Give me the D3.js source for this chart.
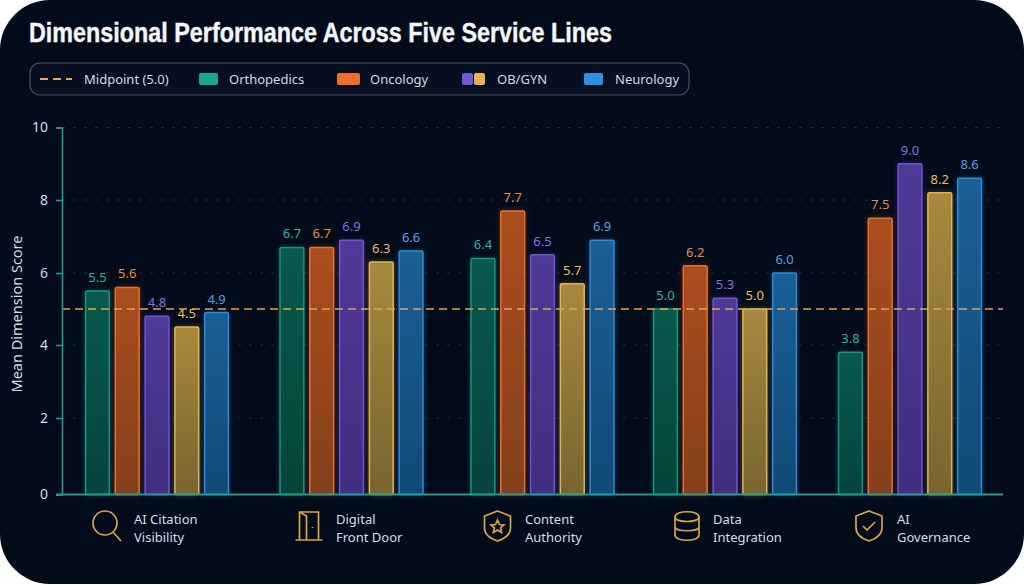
<!DOCTYPE html>
<html lang="en">
<head>
    <meta charset="UTF-8">
    <title>Dimensional Performance</title>
    <script src="https://d3js.org/d3.v7.min.js"></script>
    <style>
        html, body { margin: 0; padding: 0; background: #fff; }
        svg { display: block; }
        text { font-family: "Noto Sans", sans-serif; }
    </style>
</head>
<body>
<svg width="1024" height="585"></svg>
<script>
    var categories = [["AI Citation", "Visibility"], ["Digital", "Front Door"], ["Content", "Authority"], ["Data", "Integration"], ["AI", "Governance"]];
    var seriesNames = ["Orthopedics", "Oncology", "OB", "GYN", "Neurology"];
    var orthopedics = [5.5, 6.7, 6.4, 5.0, 3.8];
    var oncology = [5.6, 6.7, 7.7, 6.2, 7.5];
    var ob = [4.8, 6.9, 6.5, 5.3, 9.0];
    var gyn = [4.5, 6.3, 5.7, 5.0, 8.2];
    var neurology = [4.9, 6.6, 6.9, 6.0, 8.6];
    var yTicks = [0, 2, 4, 6, 8, 10];
    var midpoint = 5.0;

    var seriesValues = [orthopedics, oncology, ob, gyn, neurology];
    var stroke = ["#16977f", "#e8702c", "#6f53d0", "#e2b257", "#2f8ad8"];
    var fillTop = ["#09594d", "#ac4d1f", "#4f3a98", "#a8893c", "#1a5f98"];
    var fillBottom = ["#05443a", "#84401b", "#412e80", "#786530", "#114a76"];
    var labelColor = ["#2bb49c", "#f08a3e", "#8a6ee8", "#efbe5e", "#4aa3ec"];

    var svg = d3.select("svg");
    var defs = svg.append("defs");

    var glow = defs.append("filter").attr("id", "glow")
        .attr("x", "-40%").attr("y", "-20%").attr("width", "180%").attr("height", "140%");
    glow.append("feGaussianBlur").attr("stdDeviation", 2.5);

    seriesNames.forEach(function (s, i) {
        var g = defs.append("linearGradient").attr("id", "bar" + i)
            .attr("x1", 0).attr("y1", 0).attr("x2", 0).attr("y2", 1);
        g.append("stop").attr("offset", "0%").attr("stop-color", fillTop[i]);
        g.append("stop").attr("offset", "100%").attr("stop-color", fillBottom[i]);
    });

    // panel
    svg.append("rect").attr("width", 1024).attr("height", 584).attr("rx", 50)
        .attr("fill", "#020b1a");

    // title
    svg.append("text").attr("x", 29).attr("y", 42)
        .attr("font-size", 27).attr("font-weight", 700).attr("fill", "#f4f6f8")
        .attr("stroke", "#f4f6f8").attr("stroke-width", 0.4)
        .style("font-family", "'Liberation Sans Narrow', 'Liberation Sans', sans-serif")
        .attr("textLength", 583).attr("lengthAdjust", "spacingAndGlyphs")
        .text("Dimensional Performance Across Five Service Lines");

    // legend
    var legend = svg.append("g");
    legend.append("rect").attr("x", 30).attr("y", 63).attr("width", 659).attr("height", 32).attr("rx", 10)
        .attr("fill", "#050f1f").attr("stroke", "#4a5260").attr("stroke-width", 1.2);
    legend.append("line").attr("x1", 40).attr("x2", 72).attr("y1", 79).attr("y2", 79)
        .attr("stroke", "#e5ab4e").attr("stroke-width", 2).attr("stroke-dasharray", "8,5");

    function legendSwatch(x, w, color) {
        legend.append("rect").attr("x", x).attr("y", 73).attr("width", w).attr("height", 12).attr("rx", 2)
            .attr("fill", color);
    }
    function legendText(x, t) {
        legend.append("text").attr("x", x).attr("y", 84).attr("font-size", 13)
            .attr("fill", "#d5dae0").text(t);
    }
    legendText(84, "Midpoint (5.0)");
    legendSwatch(199, 19, "#17a88e");
    legendText(229, "Orthopedics");
    legendSwatch(337, 23, "#ee6f2b");
    legendText(370, "Oncology");
    legendSwatch(462, 11, "#7058d8");
    legendSwatch(474, 11, "#e6b255");
    legendText(497, "OB/GYN");
    legendSwatch(584, 19, "#2f8fe0");
    legendText(615, "Neurology");

    // scales
    var groupCentre = d3.scaleOrdinal().domain(d3.range(5)).range([157, 351.5, 542.5, 725, 910]);
    var inner = d3.scaleBand().domain(d3.range(5)).range([-71.5, 71.5]).paddingInner(0.2);
    // the reference's axis is slightly uneven, so the scale follows its ticks
    var y = d3.scaleLinear().domain(yTicks).range([494.5, 418, 345, 273, 200, 127.5]);

    // grid
    svg.append("g").selectAll("line").data(yTicks.slice(1)).enter().append("line")
        .attr("x1", 62).attr("x2", 1003)
        .attr("y1", function (d) { return y(d); })
        .attr("y2", function (d) { return y(d); })
        .attr("stroke", "#222d3b").attr("stroke-width", 1).attr("stroke-dasharray", "3,8");

    // bars
    var rows = [];
    seriesValues.forEach(function (vals, s) {
        vals.forEach(function (v, c) { rows.push({s: s, c: c, v: v}); });
    });
    function barX(d) { return groupCentre(d.c) + inner(d.s); }

    var barG = svg.append("g");
    barG.selectAll(".halo").data(rows).enter().append("rect").attr("class", "halo")
        .attr("x", barX).attr("y", function (d) { return y(d.v); })
        .attr("width", inner.bandwidth())
        .attr("height", function (d) { return y(0) - y(d.v); })
        .attr("rx", 1.5).attr("fill", "none").attr("opacity", 0.35)
        .attr("stroke", function (d) { return stroke[d.s]; }).attr("stroke-width", 2.5)
        .attr("filter", "url(#glow)");
    barG.selectAll(".bar").data(rows).enter().append("rect").attr("class", "bar")
        .attr("x", barX).attr("y", function (d) { return y(d.v); })
        .attr("width", inner.bandwidth())
        .attr("height", function (d) { return y(0) - y(d.v); })
        .attr("rx", 1.5)
        .attr("fill", function (d) { return "url(#bar" + d.s + ")"; })
        .attr("stroke", function (d) { return stroke[d.s]; }).attr("stroke-width", 1.5);

    // midpoint line
    svg.append("line").attr("x1", 62).attr("x2", 1003)
        .attr("y1", y(midpoint)).attr("y2", y(midpoint))
        .attr("stroke", "#dea74c").attr("stroke-width", 1.6).attr("stroke-dasharray", "8,5");

    barG = svg.append("g");
    barG.selectAll(".val").data(rows).enter().append("text").attr("class", "val")
        .attr("x", function (d) { return barX(d) + inner.bandwidth() / 2; })
        .attr("y", function (d) { return y(d.v) - 9; })
        .attr("text-anchor", "middle").attr("font-size", 13)
        .attr("fill", function (d) { return labelColor[d.s]; })
        .text(function (d) { return d.v.toFixed(1); });

    // axes
    var yAxis = svg.append("g").attr("transform", "translate(62,0)")
        .call(d3.axisLeft(y).tickValues(yTicks).tickFormat(d3.format("d")).tickSize(6).tickPadding(8));
    yAxis.selectAll("path, line").attr("stroke", "#1f9c8a").attr("stroke-width", 1.6);
    yAxis.selectAll("text").attr("fill", "#d8dde3").attr("font-size", 14)
        .style("font-family", "'Noto Sans', sans-serif");

    svg.append("line").attr("x1", 56).attr("x2", 1003).attr("y1", y(0)).attr("y2", y(0))
        .attr("stroke", "#1f9c8a").attr("stroke-width", 1.8);

    svg.append("text").attr("transform", "translate(22,314) rotate(-90)")
        .attr("text-anchor", "middle").attr("font-size", 14.5).attr("fill", "#d8dde3")
        .text("Mean Dimension Score");

    // category icons and labels
    var labelOffset = [-23, -15.5, -17.5, -12, -13];
    var iconOffset = [-50, -43, -45, -38, -41];
    var icons = [
        "M-14,-3a12,12 0 1,0 24,0a12,12 0 1,0 -24,0M6,6L14,15",
        "M-13,14H14M-9,14V-14H10V14M-9,-14L-2,-10V14M4,1v1",
        "M0,-15L13,-10V2C13,9 6,13 0,15C-6,13 -13,9 -13,2V-10ZM0,-6l2,4.5 4.5,0.4-3.4,3 1,4.6-4.1,-2.4-4.1,2.4 1,-4.6-3.4,-3 4.5,-0.4Z",
        "M-12,-9C-12,-16 12,-16 12,-9V9C12,16 -12,16 -12,9ZM-12,-9C-12,-3 12,-3 12,-9M-12,1C-12,6 12,6 12,1",
        "M0,-15L13,-10V2C13,9 6,13 0,15C-6,13 -13,9 -13,2V-10ZM-6,0l4,4 8,-8"
    ];
    var catG = svg.append("g").selectAll("g").data(categories).enter().append("g");
    catG.append("path")
        .attr("transform", function (d, i) { return "translate(" + (groupCentre(i) + iconOffset[i]) + ",526)"; })
        .attr("d", function (d, i) { return icons[i]; })
        .attr("fill", "none").attr("stroke", "#dba24c").attr("stroke-width", 1.7);
    catG.each(function (d, i) {
        var t = d3.select(this);
        d.forEach(function (line, k) {
            t.append("text").attr("x", groupCentre(i) + labelOffset[i]).attr("y", 524 + k * 18)
                .attr("font-size", 13).attr("fill", "#d8dde3").text(line);
        });
    });
</script>
</body>
</html>
